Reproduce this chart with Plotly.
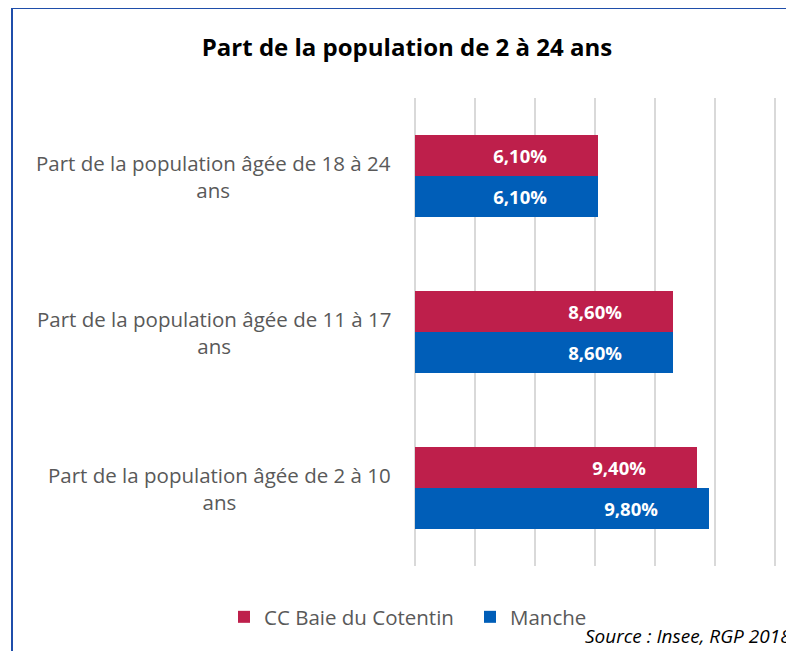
import plotly.graph_objects as go

categories = ['Part de la population âgée de 18 à 24 ans',
              'Part de la population âgée de 11 à 17 ans',
              'Part de la population âgée de 2 à 10 ans']
label_lines = [['Part de la population âgée de 18 à 24', 'ans'],
               ['Part de la population âgée de 11 à 17', 'ans'],
               ['Part de la population âgée de 2 à 10', 'ans']]
cc_baie = [6.1, 8.6, 9.4]
manche = [6.1, 8.6, 9.8]
series_names = ['CC Baie du Cotentin', 'Manche']
colors = ['#BE1F4B', '#005EB8']

# page offset (body margin of the html page)
OFF = 8
W, H = 794 - OFF, 651 - OFF
# plot area in page pixels
left, right, top, bottom = 415, 794, 98, 566
px_per_pct = 30

def px_x(px):
    return (px - left) / (right - left)

def px_y(py):
    return (bottom - py) / (bottom - top)

pad = '\u00a0' * 10
fig = go.Figure()
for name, vals, col in zip(series_names, [cc_baie, manche], colors):
    fig.add_trace(go.Bar(x=vals, y=categories, orientation='h', name=name,
                         marker=dict(color=col, line=dict(width=0)),
                         texttemplate='<b>%{x:.2f}%</b>' + pad,
                         textposition='inside', insidetextanchor='end',
                         textfont=dict(color='white', size=18.5, family='Open Sans'),
                         hoverinfo='skip'))

for i, lines in enumerate(label_lines):
    fig.add_annotation(x=px_x(393), xref='paper', xanchor='right',
                       y=categories[i], yref='y', yanchor='middle',
                       text='<br>'.join(lines), align='center', showarrow=False,
                       font=dict(size=20.5, color='#595959', family='Open Sans'))

fig.add_annotation(x=px_x(583), xref='paper', xanchor='left',
                   y=px_y(636), yref='paper', yanchor='middle',
                   text='<i>Source : Insee, RGP 2018</i>', showarrow=False,
                   font=dict(size=19, color='black', family='Open Sans'))

# chart border (left and top sides are visible)
border = dict(color='#1F4EAA', width=2)
fig.add_shape(type='line', xref='paper', yref='paper',
              x0=px_x(12), x1=px_x(820), y0=px_y(8), y1=px_y(8), line=border)
fig.add_shape(type='line', xref='paper', yref='paper',
              x0=px_x(12), x1=px_x(12), y0=px_y(8), y1=px_y(680), line=border)

fig.update_layout(
    width=W, height=H,
    margin=dict(l=left - OFF, r=0, t=top - OFF, b=H - (bottom - OFF)),
    paper_bgcolor='white', plot_bgcolor='white',
    separators=', ',
    barmode='group', bargap=0.474, bargroupgap=0,
    title=dict(text='<b>Part de la population de 2 à 24 ans</b>',
               x=(407 - OFF) / W, xref='container', xanchor='center',
               y=1 - (48 - OFF) / H, yref='container', yanchor='middle',
               font=dict(size=24, color='black', family='Open Sans')),
    showlegend=True,
    legend=dict(orientation='h', x=px_x(224), xanchor='left', y=px_y(617), yanchor='middle',
                font=dict(size=20.5, color='#595959', family='Open Sans'),
                itemwidth=30, entrywidth=201, traceorder='normal'),
)
fig.update_xaxes(range=[0, (right - left) / px_per_pct], dtick=2, tick0=0,
                 showgrid=True, gridcolor='#D9D9D9', gridwidth=1.5,
                 zeroline=True, zerolinecolor='#D9D9D9', zerolinewidth=1.5,
                 showticklabels=False, showline=False, fixedrange=True)
fig.update_yaxes(autorange='reversed', showticklabels=False, showgrid=False,
                 showline=False, fixedrange=True)

fig.write_html('out.html')
